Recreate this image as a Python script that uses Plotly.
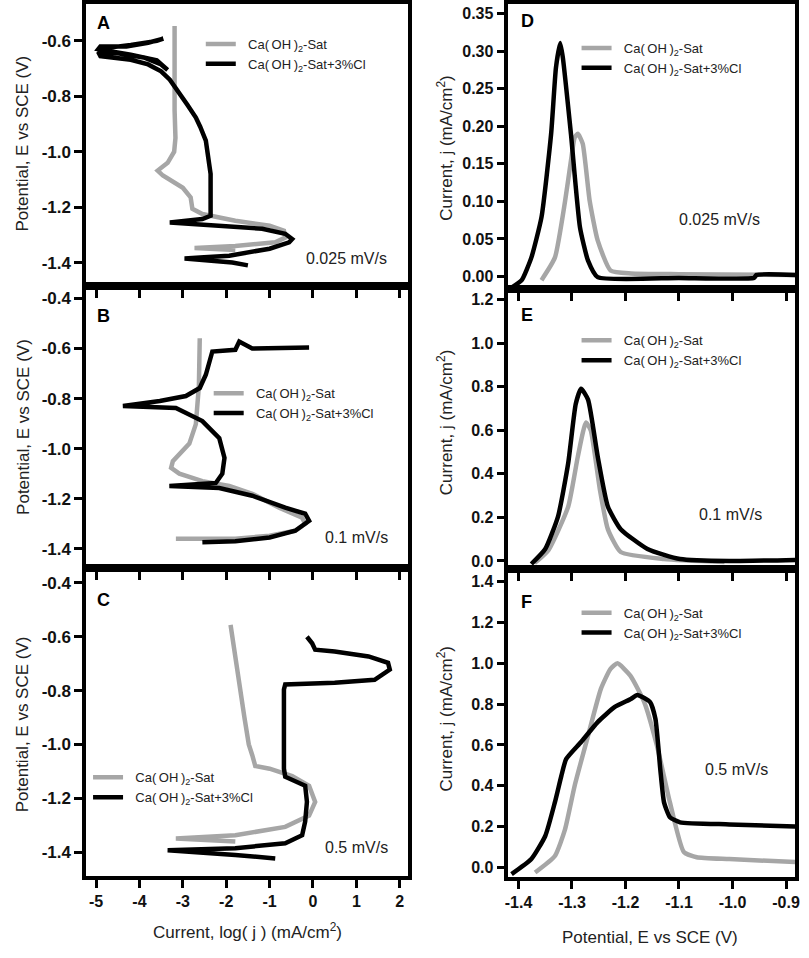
import plotly.graph_objects as go

W, H = 809, 958

# ---------------- data ----------------
# Panel A (0.025 mV/s) : log(j) vs E
A_gray_logj = [-1.79, -2.73, -1.79, -0.87, -0.64, -0.67, -1.0, -1.79, -2.55, -2.78, -2.82, -3.0, -3.46, -3.58, -3.35, -3.2, -3.17, -3.19, -3.19, -3.19]
A_gray_E = [-1.355, -1.347, -1.34, -1.327, -1.31, -1.285, -1.267, -1.249, -1.225, -1.206, -1.165, -1.13, -1.086, -1.068, -1.04, -1.0, -0.95, -0.85, -0.7, -0.546]
A_black_logj = [-1.5, -1.86, -2.96, -2.5, -1.93, -1.0, -0.55, -0.48, -0.64, -1.17, -2.16, -2.55, -3.3, -2.55, -2.36, -2.36, -2.42, -2.47, -2.6, -2.7, -2.9, -3.07, -3.3, -3.5, -3.8, -4.2, -4.9, -4.95, -4.5, -3.9, -3.5, -3.35, -3.6, -4.2, -4.95, -4.9, -4.3, -3.8, -3.45, -3.6, -4.2, -4.9]
A_black_E = [-1.41, -1.40, -1.385, -1.38, -1.375, -1.35, -1.327, -1.315, -1.296, -1.278, -1.267, -1.26, -1.255, -1.243, -1.231, -1.08, -1.0, -0.96, -0.91, -0.877, -0.83, -0.79, -0.74, -0.71, -0.685, -0.668, -0.655, -0.64, -0.645, -0.66, -0.685, -0.705, -0.67, -0.65, -0.63, -0.62, -0.62, -0.607, -0.592, -0.6, -0.615, -0.628]

# Panel B (0.1 mV/s)
B_gray_logj = [-3.16, -1.79, -1.0, -0.41, -0.18, -0.25, -0.78, -1.4, -1.93, -2.55, -3.08, -3.27, -3.23, -2.85, -2.70, -2.63, -2.61]
B_gray_E = [-1.36, -1.36, -1.348, -1.328, -1.30, -1.276, -1.236, -1.18, -1.149, -1.13, -1.10, -1.077, -1.05, -0.98, -0.902, -0.75, -0.559]
B_black_logj = [-2.55, -1.79, -1.0, -0.41, -0.09, -0.18, -0.64, -1.4, -2.16, -3.31, -2.24, -2.09, -2.04, -2.16, -2.55, -3.16, -4.38, -3.53, -2.93, -2.61, -2.47, -2.36, -2.32, -1.79, -1.70, -1.4, -0.09]
B_black_E = [-1.374, -1.37, -1.355, -1.328, -1.288, -1.26, -1.236, -1.188, -1.157, -1.149, -1.137, -1.10, -1.037, -0.958, -0.89, -0.838, -0.83, -0.81, -0.79, -0.758, -0.705, -0.64, -0.612, -0.605, -0.572, -0.60, -0.596]

# Panel C (0.5 mV/s)
C_gray_logj = [-1.79, -3.16, -1.79, -0.64, -0.09, 0.05, -0.09, -0.48, -1.0, -1.33, -1.40, -1.48, -1.58, -1.67, -1.77, -1.86, -1.90]
C_gray_E = [-1.36, -1.349, -1.337, -1.306, -1.264, -1.213, -1.153, -1.117, -1.09, -1.08, -1.04, -1.0, -0.9, -0.8, -0.7, -0.6, -0.556]
C_black_logj = [-0.87, -1.79, -3.35, -1.79, -0.64, -0.25, -0.18, -0.14, -0.18, -0.41, -0.64, -0.67, -0.67, -0.64, 0.5, 1.42, 1.77, 1.73, 1.28, 0.5, 0.05, -0.02, -0.14]
C_black_E = [-1.423, -1.41, -1.393, -1.385, -1.367, -1.337, -1.286, -1.213, -1.153, -1.135, -1.12, -1.09, -0.796, -0.777, -0.771, -0.76, -0.722, -0.697, -0.673, -0.655, -0.648, -0.624, -0.60]

# Panel D (0.025 mV/s) : E vs j
D_gray_E = [-1.357, -1.332, -1.313, -1.302, -1.295, -1.289, -1.28, -1.267, -1.252, -1.228, -1.19, -1.1, -0.883]
D_gray_j = [-0.005, 0.025, 0.10, 0.154, 0.185, 0.19, 0.177, 0.101, 0.048, 0.008, 0.004, 0.003, 0.002]
D_black_E = [-1.413, -1.394, -1.376, -1.357, -1.339, -1.33, -1.322, -1.317, -1.302, -1.285, -1.27, -1.252, -1.1, -0.96, -0.955, -0.883]
D_black_j = [-0.015, -0.005, 0.025, 0.079, 0.19, 0.278, 0.311, 0.291, 0.19, 0.065, 0.021, -0.001, -0.002, -0.002, 0.002, 0.002]

# Panel E (0.1 mV/s)
E_gray_E = [-1.37, -1.344, -1.307, -1.289, -1.274, -1.265, -1.248, -1.233, -1.209, -1.128, -1.015]
E_gray_j = [-0.01, 0.05, 0.25, 0.48, 0.635, 0.60, 0.33, 0.146, 0.041, 0.009, -0.005]
E_black_E = [-1.376, -1.35, -1.326, -1.307, -1.293, -1.283, -1.27, -1.252, -1.233, -1.209, -1.159, -1.098, -1.006, -0.883]
E_black_j = [-0.014, 0.055, 0.205, 0.45, 0.72, 0.79, 0.74, 0.48, 0.25, 0.146, 0.055, 0.009, 0.0, 0.005]

# Panel F (0.5 mV/s)
F_gray_E = [-1.369, -1.332, -1.313, -1.295, -1.27, -1.246, -1.228, -1.215, -1.191, -1.165, -1.141, -1.117, -1.091, -1.067, -1.006, -0.883]
F_gray_j = [-0.026, 0.055, 0.186, 0.40, 0.645, 0.875, 0.973, 1.0, 0.94, 0.81, 0.594, 0.318, 0.074, 0.049, 0.04, 0.025]
F_black_E = [-1.413, -1.376, -1.35, -1.332, -1.32, -1.311, -1.283, -1.252, -1.22, -1.19, -1.178, -1.154, -1.144, -1.135, -1.128, -1.117, -1.098, -1.006, -0.883]
F_black_j = [-0.034, 0.04, 0.153, 0.318, 0.447, 0.53, 0.614, 0.712, 0.786, 0.825, 0.845, 0.81, 0.727, 0.481, 0.318, 0.245, 0.22, 0.21, 0.20]

series_names = ["\u00a0\u00a0Ca(\u2009OH\u2009)<sub>2</sub>-Sat", "\u00a0\u00a0Ca(\u2009OH\u2009)<sub>2</sub>-Sat+3%Cl"]
panel_letters = ["A", "B", "C", "D", "E", "F"]
rate_labels = ["0.025 mV/s", "0.1 mV/s", "0.5 mV/s", "0.025 mV/s", "0.1 mV/s", "0.5 mV/s"]
left_yticks = [-1.4, -1.2, -1.0, -0.8, -0.6, -0.4]
left_xticks = [-5, -4, -3, -2, -1, 0, 1, 2]
right_xticks = [-1.4, -1.3, -1.2, -1.1, -1.0, -0.9]
D_yticks = [0.0, 0.05, 0.10, 0.15, 0.20, 0.25, 0.30, 0.35]
EF_yticks = [0.0, 0.2, 0.4, 0.6, 0.8, 1.0, 1.2, 1.4]

GRAY = "#a6a6a6"
BLACK = "#000000"
FONT = "Liberation Sans"

def px(x):
    return x / W

def py(y):
    return 1 - y / H

# pixel frames (left, right, top, bottom)
frames = {
    1: (83, 409, 3, 286),
    2: (83, 409, 286, 568),
    3: (83, 409, 568, 877),
    4: (510, 800, 3, 289),
    5: (510, 800, 289, 569),
    6: (510, 800, 569, 878),
}
yranges = {1: [-1.486, -0.467], 2: [-1.476, -0.352], 3: [-1.489, -0.344],
           4: [-0.0173, 0.363], 5: [-0.036, 1.246], 6: [-0.049, 1.464]}
xr_left = [-5.23, 2.2]
xr_right = [-1.419, -0.883]

panel_data = {
    1: (A_gray_logj, A_gray_E, A_black_logj, A_black_E),
    2: (B_gray_logj, B_gray_E, B_black_logj, B_black_E),
    3: (C_gray_logj, C_gray_E, C_black_logj, C_black_E),
    4: (D_gray_E, D_gray_j, D_black_E, D_black_j),
    5: (E_gray_E, E_gray_j, E_black_E, E_black_j),
    6: (F_gray_E, F_gray_j, F_black_E, F_black_j),
}

fig = go.Figure()
for k in range(1, 7):
    gx, gy, bx, by = panel_data[k]
    suffix = "" if k == 1 else str(k)
    leg = "legend" if k == 1 else "legend" + str(k)
    shape = "linear" if k <= 3 else "spline"
    fig.add_trace(go.Scatter(x=gx, y=gy, mode="lines", name=series_names[0],
                             line=dict(color=GRAY, width=4.5, shape=shape, smoothing=0.5 if k > 3 else None),
                             xaxis="x" + suffix, yaxis="y" + suffix, legend=leg))
    fig.add_trace(go.Scatter(x=bx, y=by, mode="lines", name=series_names[1],
                             line=dict(color=BLACK, width=4.5, shape=shape, smoothing=0.5 if k > 3 else None),
                             xaxis="x" + suffix, yaxis="y" + suffix, legend=leg))

axis_common = dict(showline=True, linewidth=3.5, linecolor="black", mirror=True,
                   ticks="outside", ticklen=8, tickwidth=2.5, tickcolor="black",
                   showgrid=False, zeroline=False)

layout = dict(width=W, height=H, margin=dict(l=0, r=0, t=0, b=0),
              paper_bgcolor="white", plot_bgcolor="rgba(0,0,0,0)", showlegend=True)

for k in range(1, 7):
    l, r, t, b = frames[k]
    suffix = "" if k == 1 else str(k)
    left_col = k <= 3
    xa = dict(axis_common, domain=[px(l), px(r)], anchor="y" + suffix,
              range=xr_left if left_col else xr_right,
              tickvals=left_xticks if left_col else right_xticks,
              showticklabels=(k in (3, 6)),
              tickfont=dict(family=FONT, size=16, color="#111111", weight="bold"))
    if not left_col:
        xa["ticktext"] = ["-1.4", "-1.3", "-1.2", "-1.1", "-1.0", "-0.9"]
    else:
        xa["ticktext"] = [str(v) for v in left_xticks]
    if left_col:
        yt = left_yticks
        ytext = ["%.1f" % v for v in yt]
        yfs = 17
    elif k == 4:
        yt = D_yticks
        ytext = ["%.2f" % v for v in yt]
        yfs = 16
    else:
        yt = EF_yticks
        ytext = ["%.1f" % v for v in yt]
        yfs = 16
    ya = dict(axis_common, domain=[py(b), py(t)], anchor="x" + suffix,
              range=yranges[k], tickvals=yt, ticktext=ytext,
              tickfont=dict(family=FONT, size=yfs, color="#111111", weight="bold"))
    layout["xaxis" + suffix] = xa
    layout["yaxis" + suffix] = ya

# legends
legend_pos = {1: (199, 28), 2: (207, 378), 3: (85, 763), 4: (579, 32), 5: (579, 325), 6: (579, 598)}
for k in range(1, 7):
    name = "legend" if k == 1 else "legend" + str(k)
    x0, y0 = legend_pos[k]
    layout[name] = dict(x=px(x0), y=py(y0), xanchor="left", yanchor="top",
                        bgcolor="rgba(0,0,0,0)", borderwidth=0,
                        font=dict(family=FONT, size=13, color="#222222"),
                        tracegroupgap=0)

fig.update_layout(**layout)

# annotations: letters, rates, axis titles
letter_pos = {1: (92, 22), 2: (92, 316), 3: (92, 600), 4: (521, 20), 5: (521, 315), 6: (521, 602)}
rate_pos = {1: (346, 258), 2: (356, 538), 3: (356, 848), 4: (724, 219), 5: (735, 515), 6: (741, 770)}
for k in range(1, 7):
    lx, ly = letter_pos[k]
    fig.add_annotation(x=px(lx), y=py(ly), xref="paper", yref="paper", text=panel_letters[k - 1],
                       showarrow=False, xanchor="left", yanchor="middle",
                       font=dict(family=FONT, size=18, color="black", weight="bold"))
    rx, ry = rate_pos[k]
    fig.add_annotation(x=px(rx), y=py(ry), xref="paper", yref="paper", text=rate_labels[k - 1],
                       showarrow=False, xanchor="center", yanchor="middle",
                       font=dict(family=FONT, size=16, color="#222222"))

ytitle_left = "Potential, E vs SCE (V)"
ytitle_right = "Current, j (mA/cm<sup>2</sup>)"
for k, (cx, cy) in {1: (19, 143), 2: (19, 427), 3: (19, 725), 4: (446, 148), 5: (446, 423), 6: (446, 720)}.items():
    fig.add_annotation(x=px(cx), y=py(cy), xref="paper", yref="paper",
                       text=ytitle_left if k <= 3 else ytitle_right, textangle=-90,
                       showarrow=False, xanchor="center", yanchor="middle",
                       font=dict(family=FONT, size=17, color="#222222"))

fig.add_annotation(x=px(246), y=py(932), xref="paper", yref="paper",
                   text="Current, log( j ) (mA/cm<sup>2</sup>)", showarrow=False,
                   xanchor="center", yanchor="middle", font=dict(family=FONT, size=17, color="#222222"))
fig.add_annotation(x=px(653), y=py(938), xref="paper", yref="paper",
                   text="Potential, E vs SCE (V)", showarrow=False,
                   xanchor="center", yanchor="middle", font=dict(family=FONT, size=17, color="#222222"))

fig.write_html("out.html", config={"displayModeBar": False},
               post_script="document.body.style.margin='0';document.body.style.overflow='hidden';")
